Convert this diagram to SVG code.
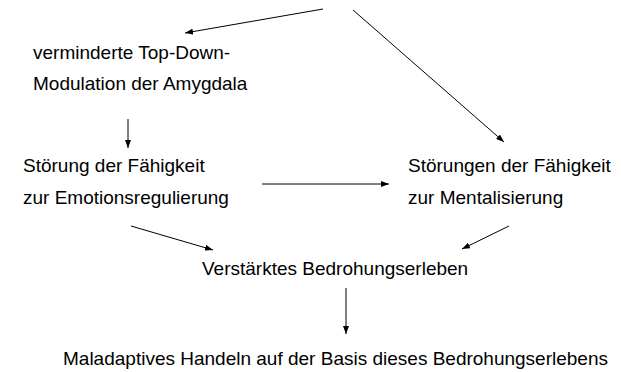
<svg xmlns="http://www.w3.org/2000/svg" width="621" height="372" viewBox="0 0 621 372">
<defs>
<style>
text{font-family:"Liberation Sans",Arial,sans-serif;font-size:19px;fill:#000}
.c line{stroke:#000;stroke-width:1;fill:none;marker-end:url(#ah)}
</style>
<marker id="ah" viewBox="0 0 8 6" refX="8" refY="3" markerWidth="8" markerHeight="6" markerUnits="userSpaceOnUse" orient="auto">
<path d="M0,0 L8,3 L0,6 Z" fill="#000"/>
</marker>
</defs>
<rect width="621" height="372" fill="#fff"/>
<g id="n-amygdala"><text x="33" y="59">verminderte Top-Down-</text><text x="33" y="90">Modulation der Amygdala</text></g>
<g id="n-emotion"><text x="23" y="172">Störung der Fähigkeit</text><text x="23" y="204">zur Emotionsregulierung</text></g>
<g id="n-mental"><text x="408" y="172">Störungen der Fähigkeit</text><text x="408" y="204">zur Mentalisierung</text></g>
<g id="n-bedrohung"><text x="202" y="275">Verstärktes Bedrohungserleben</text></g>
<g id="n-handeln"><text x="63" y="365">Maladaptives Handeln auf der Basis dieses Bedrohungserlebens</text></g>
<g class="c" id="connectors">
<line x1="323" y1="9" x2="185" y2="33"/>
<line x1="353" y1="10" x2="504" y2="142"/>
<line x1="128" y1="119" x2="128" y2="148"/>
<line x1="262" y1="184" x2="389" y2="184"/>
<line x1="131" y1="226" x2="213" y2="250"/>
<line x1="509" y1="226" x2="462" y2="249"/>
<line x1="346" y1="288" x2="346" y2="334"/>
</g>
</svg>
